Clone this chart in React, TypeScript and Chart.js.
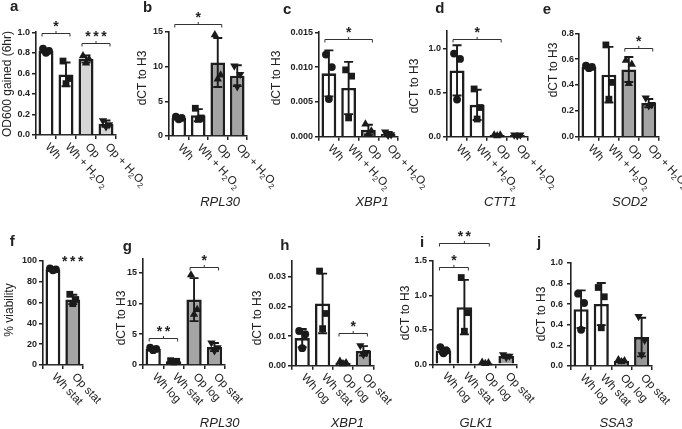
import React, { useEffect, useRef } from 'react';
import { Chart, registerables } from 'chart.js';

Chart.register(...registerables);

const FONT = "'Liberation Sans', Arial, sans-serif";
const INK = '#222222';

// ---------------- categories / labels ----------------
const TREATMENT_LABELS = ['Wh', 'Wh + H₂O₂', 'Op', 'Op + H₂O₂'];
const PHASE_LABELS = ['Wh log', 'Wh stat', 'Op log', 'Op stat'];
const VIABILITY_LABELS = ['Wh stat', 'Op stat'];
const GENES_TOP = ['RPL30', 'XBP1', 'CTT1', 'SOD2'];
const GENES_BOTTOM = ['RPL30', 'XBP1', 'GLK1', 'SSA3'];

// ---------------- panel a ----------------
const A_MEAN = [0.82, 0.59, 0.74, 0.11];
const A_PTS = [[0.84, 0.82, 0.8], [0.72, 0.55, 0.5], [0.77, 0.74, 0.7], [0.14, 0.1, 0.08]];
const A_TICKS = [0, 0.2, 0.4, 0.6, 0.8, 1.0];
const A_SIG = [{ from: 0, to: 1, at: 0.99, mark: '*' }, { from: 2, to: 3, at: 0.9, mark: '***' }];

// ---------------- panel b (RPL30) ----------------
const B_MEAN = [2.6, 3.0, 10.6, 8.7];
const B_PTS = [[2.8, 2.6, 2.4], [4.0, 2.6, 2.4], [14.6, 8.8, 8.2], [10.1, 8.9, 7.1]];
const B_TICKS = [0, 5, 10, 15];
const B_SIG = [{ from: 0, to: 2, at: 16.2, mark: '*' }];

// ---------------- panel c (XBP1) ----------------
const C_MEAN = [0.0091, 0.007, 0.001, 0.0004];
const C_PTS = [[0.0118, 0.01, 0.0054], [0.0096, 0.0087, 0.0027], [0.0018, 0.0008, 0.0004], [0.0007, 0.0003, 0.0002]];
const C_TICKS = [0, 0.005, 0.01, 0.015];
const C_SIG = [{ from: 0, to: 2, at: 0.014, mark: '*' }];

// ---------------- panel d (CTT1) ----------------
const D_MEAN = [0.75, 0.36, 0.02, 0.02];
const D_PTS = [[0.94, 0.88, 0.42], [0.54, 0.33, 0.2], [0.02, 0.02, 0.01], [0.02, 0.02, 0.01]];
const D_TICKS = [0, 0.5, 1.0];
const D_SIG = [{ from: 0, to: 2, at: 1.1, mark: '*' }];

// ---------------- panel e (SOD2) ----------------
const E_MEAN = [0.54, 0.48, 0.52, 0.26];
const E_PTS = [[0.55, 0.54, 0.53], [0.71, 0.42, 0.29], [0.59, 0.56, 0.41], [0.3, 0.25, 0.24]];
const E_TICKS = [0, 0.2, 0.4, 0.6, 0.8];
const E_SIG = [{ from: 2, to: 3, at: 0.69, mark: '*' }];

// ---------------- panel f (viability) ----------------
const F_MEAN = [92, 63];
const F_PTS = [[93, 92, 91], [68, 63, 59]];
const F_TICKS = [0, 20, 40, 60, 80, 100];
const F_SIG = [{ from: 1, to: 1, at: 93, mark: '***', noLine: true }];

// ---------------- panel g (RPL30) ----------------
const G_MEAN = [2.6, 0.6, 10.6, 2.9];
const G_PTS = [[2.8, 2.6, 2.4], [0.7, 0.6, 0.5], [14.6, 9.0, 8.2], [3.6, 2.8, 2.3]];
const G_TICKS = [0, 5, 10, 15];
const G_SIG = [{ from: 0, to: 1, at: 4.3, mark: '**' }, { from: 2, to: 3, at: 15.9, mark: '*' }];

// ---------------- panel h (XBP1) ----------------
const H_MEAN = [0.0093, 0.021, 0.001, 0.005];
const H_PTS = [[0.0117, 0.0106, 0.0059], [0.0319, 0.0176, 0.0125], [0.0015, 0.001, 0.0006], [0.0068, 0.0045, 0.0037]];
const H_TICKS = [0, 0.01, 0.02, 0.03];
const H_SIG = [{ from: 2, to: 3, at: 0.0109, mark: '*' }];

// ---------------- panel i (GLK1) ----------------
const I_MEAN = [0.2, 0.83, 0.02, 0.12];
const I_PTS = [[0.25, 0.2, 0.16], [1.26, 0.75, 0.48], [0.03, 0.02, 0.01], [0.14, 0.12, 0.1]];
const I_TICKS = [0, 0.5, 1.0, 1.5];
const I_SIG = [{ from: 0, to: 1, at: 1.42, mark: '*' }, { from: 0, to: 2, at: 1.76, mark: '**' }];

// ---------------- panel j (SSA3) ----------------
const J_MEAN = [0.55, 0.6, 0.05, 0.28];
const J_PTS = [[0.7, 0.61, 0.35], [0.76, 0.67, 0.37], [0.06, 0.05, 0.04], [0.48, 0.25, 0.11]];
const J_TICKS = [0, 0.2, 0.4, 0.6, 0.8, 1.0];
const J_SIG: any[] = [];

// ---------------- styling / layout (page pixel coordinates) ----------------
const WHITE = '#ffffff';
const GRAY = '#a4a4a4';
const LIGHT = '#d6d6d6';
const SHAPES4 = ['circle', 'rect', 'triangle', 'invtri'];
const JITTER = [-0.15, 0.15, 0];

type Sig = { from: number; to: number; at: number; mark: string; noLine?: boolean };
type Panel = {
  letter: string; letterX: number; letterY: number;
  x0: number; x1: number; yTop: number; yZero: number; rowTop: number; rowH: number;
  yMax: number; ticks: number[]; dec: number; tickPad: number;
  labels: string[]; means: number[]; pts: number[][]; colors: string[];
  title: string; titleX: number; titleY: number;
  gene?: string; geneX?: number; geneY?: number;
  sig: Sig[];
};

const TOP_ROW = { rowTop: 0, rowH: 215 };
const BOT_ROW = { rowTop: 215, rowH: 214 };

const PANELS: Panel[] = [
  { letter: 'a', letterX: 10, letterY: 11, x0: 36, x1: 116, yTop: 32.3, yZero: 135, ...TOP_ROW,
    yMax: 1.0, ticks: A_TICKS, dec: 1, tickPad: 2, labels: TREATMENT_LABELS, means: A_MEAN, pts: A_PTS,
    colors: [WHITE, WHITE, LIGHT, LIGHT], title: 'OD600 gained (6hr)', titleX: 8, titleY: 84, sig: A_SIG },
  { letter: 'b', letterX: 143, letterY: 12, x0: 169, x1: 247, yTop: 32, yZero: 136, ...TOP_ROW,
    yMax: 15, ticks: B_TICKS, dec: 0, tickPad: 2, labels: TREATMENT_LABELS, means: B_MEAN, pts: B_PTS,
    colors: [WHITE, WHITE, GRAY, GRAY], title: 'dCT to H3', titleX: 143, titleY: 78,
    gene: GENES_TOP[0], geneX: 220, geneY: 206, sig: B_SIG },
  { letter: 'c', letterX: 283, letterY: 14, x0: 319, x1: 398, yTop: 32.3, yZero: 136.7, ...TOP_ROW,
    yMax: 0.015, ticks: C_TICKS, dec: 3, tickPad: 2, labels: TREATMENT_LABELS, means: C_MEAN, pts: C_PTS,
    colors: [WHITE, WHITE, GRAY, GRAY], title: 'dCT to H3', titleX: 277, titleY: 78,
    gene: GENES_TOP[1], geneX: 372, geneY: 206, sig: C_SIG },
  { letter: 'd', letterX: 435, letterY: 13, x0: 446.7, x1: 527, yTop: 30.6, yZero: 136.7, ...TOP_ROW,
    yMax: 1.2, ticks: D_TICKS, dec: 1, tickPad: 2, labels: TREATMENT_LABELS, means: D_MEAN, pts: D_PTS,
    colors: [WHITE, WHITE, GRAY, GRAY], title: 'dCT to H3', titleX: 414, titleY: 86,
    gene: GENES_TOP[2], geneX: 500, geneY: 206, sig: D_SIG },
  { letter: 'e', letterX: 543, letterY: 14, x0: 579.3, x1: 659, yTop: 33.3, yZero: 136.7, ...TOP_ROW,
    yMax: 0.8, ticks: E_TICKS, dec: 1, tickPad: 1, labels: TREATMENT_LABELS, means: E_MEAN, pts: E_PTS,
    colors: [WHITE, WHITE, GRAY, GRAY], title: 'dCT to H3', titleX: 554, titleY: 70,
    gene: GENES_TOP[3], geneX: 630, geneY: 206, sig: E_SIG },
  { letter: 'f', letterX: 10, letterY: 246, x0: 43.3, x1: 83, yTop: 261, yZero: 365, ...BOT_ROW,
    yMax: 100, ticks: F_TICKS, dec: 0, tickPad: 2, labels: VIABILITY_LABELS, means: F_MEAN, pts: F_PTS,
    colors: [WHITE, GRAY], title: '% viability', titleX: 10, titleY: 310, sig: F_SIG },
  { letter: 'g', letterX: 123, letterY: 251, x0: 143.3, x1: 225, yTop: 258.3, yZero: 365, ...BOT_ROW,
    yMax: 17.3, ticks: G_TICKS, dec: 0, tickPad: 2, labels: PHASE_LABELS, means: G_MEAN, pts: G_PTS,
    colors: [WHITE, WHITE, GRAY, GRAY], title: 'dCT to H3', titleX: 122, titleY: 318,
    gene: GENES_BOTTOM[0], geneX: 220, geneY: 427, sig: G_SIG },
  { letter: 'h', letterX: 280, letterY: 250, x0: 291.7, x1: 373.3, yTop: 260.4, yZero: 365.7, ...BOT_ROW,
    yMax: 0.0355, ticks: H_TICKS, dec: 2, tickPad: 2, labels: PHASE_LABELS, means: H_MEAN, pts: H_PTS,
    colors: [WHITE, WHITE, GRAY, GRAY], title: 'dCT to H3', titleX: 257, titleY: 318,
    gene: GENES_BOTTOM[1], geneX: 347, geneY: 427, sig: H_SIG },
  { letter: 'i', letterX: 420, letterY: 247, x0: 433, x1: 516.7, yTop: 261, yZero: 364.3, ...BOT_ROW,
    yMax: 1.5, ticks: I_TICKS, dec: 1, tickPad: 2, labels: PHASE_LABELS, means: I_MEAN, pts: I_PTS,
    colors: [WHITE, WHITE, GRAY, GRAY], title: 'dCT to H3', titleX: 406, titleY: 313,
    gene: GENES_BOTTOM[2], geneX: 476, geneY: 427, sig: I_SIG },
  { letter: 'j', letterX: 537, letterY: 247, x0: 571, x1: 651.7, yTop: 262.7, yZero: 366, ...BOT_ROW,
    yMax: 1.0, ticks: J_TICKS, dec: 1, tickPad: 4, labels: PHASE_LABELS, means: J_MEAN, pts: J_PTS,
    colors: [WHITE, WHITE, GRAY, '#969696'], title: 'dCT to H3', titleX: 542, titleY: 314,
    gene: GENES_BOTTOM[3], geneX: 616, geneY: 427, sig: J_SIG },
];

const LEFT_ROOM = 50;
const RIGHT_ROOM = 75;
const XAXIS_H = 6;
const LABEL_ANGLE = (47 * Math.PI) / 180;

function canvasBox(p: Panel) {
  const cl = p.x0 - LEFT_ROOM;
  const cw = Math.round(p.x1 - p.x0 + LEFT_ROOM + RIGHT_ROOM);
  return { cl, ct: p.rowTop, cw, ch: p.rowH };
}

function sd(a: number[]) {
  const m = a.reduce((s, v) => s + v, 0) / a.length;
  return Math.sqrt(a.reduce((s, v) => s + (v - m) * (v - m), 0) / (a.length - 1));
}

function splitSub(text: string) {
  const segs: { t: string; sub: boolean }[] = [];
  for (const ch of text) {
    const code = ch.charCodeAt(0);
    const sub = code >= 0x2080 && code <= 0x2089;
    const t = sub ? String.fromCharCode(code - 0x2080 + 48) : ch;
    const last = segs[segs.length - 1];
    if (last && last.sub === sub) last.t += t;
    else segs.push({ t, sub });
  }
  return segs;
}

function makeChart(canvas: HTMLCanvasElement, p: Panel) {
  const { cl, ct, cw, ch } = canvasBox(p);
  const n = p.means.length;
  const px = (x: number) => x - cl;
  const py = (y: number) => y - ct;

  const pointSets = p.pts.map((vals, i) => {
    const shape = SHAPES4[i];
    const inv = shape === 'invtri';
    return {
      type: 'scatter' as const,
      data: vals.map((v, k) => ({ x: i + JITTER[k % JITTER.length], y: v })),
      pointStyle: inv ? 'triangle' : shape,
      pointRotation: inv ? 180 : 0,
      pointRadius: shape === 'circle' ? 3.9 : 4.8,
      pointBackgroundColor: '#1a1a1a',
      pointBorderColor: '#1a1a1a',
      pointBorderWidth: 0,
      clip: false as any,
      order: 0,
    };
  });

  const decoPlugin = {
    id: 'deco',
    afterDatasetDraw(chart: any, args: any) {
      if (args.index !== 0) return;
      const ctx = chart.ctx;
      const xs = chart.scales.x;
      const ys = chart.scales.y;
      ctx.save();
      ctx.strokeStyle = '#1a1a1a';
      ctx.lineWidth = 1.9;
      p.means.forEach((m, i) => {
        const e = sd(p.pts[i]);
        const x = xs.getPixelForValue(i);
        const yHi = ys.getPixelForValue(m + e);
        const yLo = ys.getPixelForValue(Math.max(0, m - e));
        ctx.beginPath();
        ctx.moveTo(x, yHi); ctx.lineTo(x, yLo);
        ctx.moveTo(x - 4.5, yHi); ctx.lineTo(x + 4.5, yHi);
        ctx.moveTo(x - 4.5, yLo); ctx.lineTo(x + 4.5, yLo);
        ctx.stroke();
      });
      ctx.restore();
    },
    afterDraw(chart: any) {
      const ctx = chart.ctx;
      const xs = chart.scales.x;
      const ys = chart.scales.y;
      ctx.save();
      ctx.fillStyle = INK;
      // panel letter
      ctx.font = `bold 15px ${FONT}`;
      ctx.textAlign = 'left';
      ctx.textBaseline = 'alphabetic';
      ctx.fillText(p.letter, px(p.letterX), py(p.letterY));
      // y title
      ctx.save();
      ctx.translate(px(p.titleX), py(p.titleY));
      ctx.rotate(-Math.PI / 2);
      ctx.font = `12px ${FONT}`;
      ctx.textAlign = 'center';
      ctx.textBaseline = 'middle';
      ctx.fillText(p.title, 0, 0);
      ctx.restore();
      // rotated category labels
      const size = 11.5;
      const y0 = ys.getPixelForValue(0);
      p.labels.forEach((lab, i) => {
        const x = xs.getPixelForValue(i);
        ctx.save();
        ctx.translate(x + 1, y0 + 10);
        ctx.rotate(LABEL_ANGLE);
        ctx.textAlign = 'left';
        ctx.textBaseline = 'middle';
        let cx = 0;
        for (const seg of splitSub(lab)) {
          if (seg.sub) {
            ctx.font = `${size * 0.68}px ${FONT}`;
            ctx.fillText(seg.t, cx, size * 0.32);
          } else {
            ctx.font = `${size}px ${FONT}`;
            ctx.fillText(seg.t, cx, 0);
          }
          cx += ctx.measureText(seg.t).width;
        }
        ctx.restore();
      });
      // gene name
      if (p.gene) {
        ctx.font = `italic 13px ${FONT}`;
        ctx.textAlign = 'center';
        ctx.textBaseline = 'alphabetic';
        ctx.fillText(p.gene, px(p.geneX!), py(p.geneY!));
      }
      // significance brackets
      p.sig.forEach((s) => {
        const xa = xs.getPixelForValue(s.from) - 4;
        const xb = xs.getPixelForValue(s.to) + 4;
        const y = Math.round(ys.getPixelForValue(s.at)) + 0.5;
        if (!s.noLine) {
          ctx.strokeStyle = '#333';
          ctx.lineWidth = 1;
          ctx.beginPath();
          ctx.moveTo(xa, y + 3); ctx.lineTo(xa, y); ctx.lineTo(xb, y); ctx.lineTo(xb, y + 3);
          const xm = (xa + xb) / 2;
          ctx.moveTo(xm, y); ctx.lineTo(xm, y - 2.5);
          ctx.stroke();
        }
        ctx.font = `bold 14px ${FONT}`;
        (ctx as any).letterSpacing = s.mark.length > 1 ? '2.5px' : '0px';
        ctx.textAlign = 'center';
        ctx.textBaseline = 'alphabetic';
        ctx.fillText(s.mark, (xa + xb) / 2 + (s.mark.length > 1 ? 1.2 : 0), y - 3);
        (ctx as any).letterSpacing = '0px';
      });
      ctx.restore();
    },
  };

  const axisCommon = {
    grid: { drawOnChartArea: false, drawTicks: true, tickLength: 4, color: INK, lineWidth: 1.5 },
    border: { display: true, color: INK, width: 1.6 },
  };

  return new Chart(canvas, {
    type: 'bar',
    data: {
      datasets: [
        {
          type: 'bar',
          data: p.means.map((m, i) => ({ x: i, y: m })),
          backgroundColor: p.colors,
          borderColor: '#1e1e1e',
          borderWidth: 2.6,
          barPercentage: 0.75,
          categoryPercentage: 1,
          order: 10,
        } as any,
        ...(pointSets as any[]),
      ],
    },
    options: {
      responsive: false,
      animation: false,
      events: [],
      layout: {
        padding: {
          left: 0,
          top: py(p.yTop),
          right: cw - px(p.x1),
          bottom: ch - py(p.yZero) - XAXIS_H,
        },
      },
      plugins: { legend: { display: false }, tooltip: { enabled: false } },
      scales: {
        x: {
          type: 'linear',
          min: -0.5,
          max: n - 0.5,
          offset: false,
          afterBuildTicks: (s: any) => { s.ticks = p.labels.map((_, i) => ({ value: i })); },
          afterFit: (s: any) => { s.height = XAXIS_H; },
          ticks: { display: false },
          ...axisCommon,
        },
        y: {
          type: 'linear',
          min: 0,
          max: p.yMax,
          afterBuildTicks: (s: any) => { s.ticks = p.ticks.map((v) => ({ value: v })); },
          afterFit: (s: any) => { s.width = px(p.x0); },
          ticks: {
            padding: p.tickPad,
            color: INK,
            font: { family: FONT, size: 9, weight: 'bold' },
            callback: (v: any) => Number(v).toFixed(p.dec),
          },
          ...axisCommon,
        },
      },
    } as any,
    plugins: [decoPlugin],
  });
}

export default function App() {
  const refs = useRef<(HTMLCanvasElement | null)[]>([]);
  useEffect(() => {
    const charts = PANELS.map((p, i) => makeChart(refs.current[i]!, p));
    return () => charts.forEach((c) => c.destroy());
  }, []);
  return (
    <div style={{ position: 'absolute', left: 0, top: 0, width: 682, height: 429, background: '#fff', overflow: 'hidden' }}>
      {PANELS.map((p, i) => {
        const b = canvasBox(p);
        return (
          <canvas
            key={p.letter}
            ref={(el) => { refs.current[i] = el; }}
            width={b.cw}
            height={b.ch}
            style={{ position: 'absolute', left: b.cl, top: b.ct, width: b.cw, height: b.ch }}
          />
        );
      })}
    </div>
  );
}
